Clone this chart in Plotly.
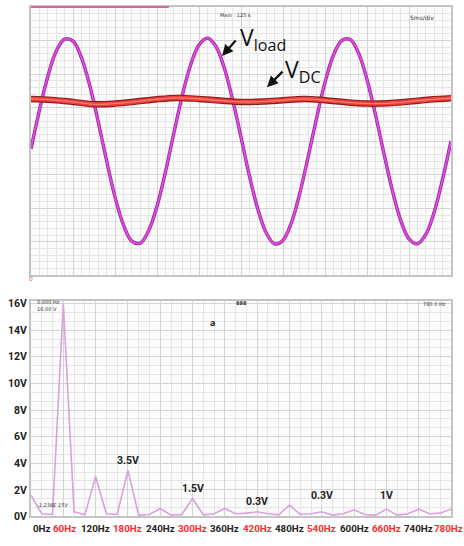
import plotly.graph_objects as go

W, H = 464, 546

# ---- oscilloscope trace (time in ms, amplitude in divisions) ----
time_ms = list(range(0, 51))
v_load = [-0.23, 0.92, 1.93, 2.68, 3.04, 2.98, 2.49, 1.65, 0.58, -0.58,
          -1.66, -2.49, -2.98, -3.04, -2.67, -1.94, -0.92, 0.23, 1.35, 2.27,
          2.87, 3.07, 2.83, 2.19, 1.24, 0.12, -1.03, -2.02, -2.73, -3.06,
          -2.95, -2.43, -1.55, -0.46, 0.69, 1.75, 2.56, 3.00, 3.03, 2.62,
          1.84, 0.80, -0.35, -1.45, -2.35, -2.91, -3.06, -2.78, -2.11, -1.13,
          0.00]

time_dc = [0, 2.5, 5, 7.5, 10, 12.5, 15, 17.5, 20, 22.5, 25, 27.5, 30,
           32.5, 35, 37.5, 40, 42.5, 45, 47.5, 50]
v_dc = [1.26, 1.23, 1.17, 1.10, 1.12, 1.18, 1.25, 1.29, 1.26, 1.21, 1.17,
        1.18, 1.22, 1.26, 1.22, 1.16, 1.12, 1.13, 1.18, 1.24, 1.28]

# ---- FFT spectrum ----
freq_hz = [0, 20, 40, 60, 80, 100, 120, 140, 160, 180, 200, 220, 240, 260,
           280, 300, 320, 340, 360, 380, 400, 420, 440, 460, 480, 500, 520,
           540, 560, 580, 600, 620, 640, 660, 680, 700, 720, 740, 760, 780]
amp_v = [1.6, 0.2, 0.15, 16.0, 0.35, 0.12, 3.0, 0.2, 0.15, 3.45, 0.1, 0.15,
         0.6, 0.1, 0.15, 1.35, 0.12, 0.2, 0.6, 0.2, 0.25, 0.35, 0.2, 0.12,
         0.85, 0.15, 0.2, 0.35, 0.1, 0.2, 0.5, 0.15, 0.1, 0.55, 0.1, 0.2,
         0.55, 0.2, 0.25, 0.55]

tick_hz = [0, 60, 120, 180, 240, 300, 360, 420, 480, 540, 600, 660, 720, 780]
tick_text = ["0Hz", "60Hz", "120Hz", "180Hz", "240Hz", "300Hz", "360Hz",
             "420Hz", "480Hz", "540Hz", "600Hz", "660Hz", "740Hz", "780Hz"]
tick_red = [False, True, False, True, False, True, False,
            True, False, True, False, True, False, True]

y_ticks = [0, 2, 4, 6, 8, 10, 12, 14, 16]
y_text = ["0V", "2V", "4V", "6V", "8V", "10V", "12V", "14V", "16V"]

# harmonic callouts: (frequency, label)
callouts = [(180, "3.5V"), (300, "1.5V"), (420, "0.3V"), (540, "0.3V"), (660, "1V")]
callout_px = [466, 494, 508, 502, 502]


def px(x):
    return x / W


def py(y):
    return 1 - y / H


fig = go.Figure()

# load voltage: darker rim under a magenta core
fig.add_trace(go.Scatter(x=time_ms, y=v_load, mode="lines",
                         line=dict(color="#9a239a", width=3.4, shape="spline"),
                         hoverinfo="skip", xaxis="x", yaxis="y"))
fig.add_trace(go.Scatter(x=time_ms, y=v_load, mode="lines",
                         line=dict(color="#e04ae0", width=1.9, shape="spline"),
                         xaxis="x", yaxis="y"))
# DC bus: dark red edge, red band, lighter centre
fig.add_trace(go.Scatter(x=time_dc, y=v_dc, mode="lines",
                         line=dict(color="#8c1c1c", width=6.5, shape="spline"),
                         hoverinfo="skip", xaxis="x", yaxis="y"))
fig.add_trace(go.Scatter(x=time_dc, y=v_dc, mode="lines",
                         line=dict(color="#f0403a", width=4.2, shape="spline"),
                         xaxis="x", yaxis="y"))
fig.add_trace(go.Scatter(x=time_dc, y=v_dc, mode="lines",
                         line=dict(color="#ff8a80", width=1.0, shape="spline"),
                         hoverinfo="skip", xaxis="x", yaxis="y"))

# spectrum
fig.add_trace(go.Scatter(x=freq_hz, y=amp_v, mode="lines",
                         line=dict(color="#d9a2dc", width=1.6),
                         xaxis="x2", yaxis="y2"))

grid_major = "#d4d4d4"
grid_minor = "#e6e6e6"
border = "#c4c4c4"
lbl_font = "Roboto"

fig.update_layout(
    width=W, height=H,
    margin=dict(l=0, r=0, t=0, b=0),
    paper_bgcolor="white",
    plot_bgcolor="#fcfcfc",
    showlegend=False,
    xaxis=dict(domain=[px(31), px(451)], range=[0, 50], dtick=5,
               showticklabels=False, ticks="", zeroline=False, showgrid=True,
               gridcolor=grid_major, gridwidth=1,
               minor=dict(dtick=1, showgrid=True, gridcolor=grid_minor, gridwidth=1),
               showline=True, mirror=True, linecolor=border, linewidth=2),
    yaxis=dict(domain=[py(277), py(3)], range=[-4, 4], dtick=1,
               showticklabels=False, ticks="", zeroline=False, showgrid=True,
               gridcolor=grid_major, gridwidth=1,
               minor=dict(dtick=0.2, showgrid=True, gridcolor=grid_minor, gridwidth=1),
               showline=True, mirror=True, linecolor=border, linewidth=2),
    xaxis2=dict(domain=[px(31), px(451)], range=[0, 780], anchor="y2",
                dtick=60, showticklabels=False, ticks="", zeroline=False,
                showgrid=True, gridcolor=grid_major, gridwidth=1,
                minor=dict(dtick=20, showgrid=True, gridcolor=grid_minor, gridwidth=1),
                showline=True, mirror=True, linecolor=border, linewidth=2),
    yaxis2=dict(domain=[py(523), py(303)], range=[0, 16.2], anchor="x2",
                tickvals=y_ticks, ticktext=y_text, ticks="",
                tickfont=dict(family=lbl_font, size=10.5, color="#222222",
                              weight="bold"),
                zeroline=False, showgrid=True, gridcolor=grid_major, gridwidth=1,
                minor=dict(dtick=2 / 3, showgrid=True, gridcolor=grid_minor, gridwidth=1),
                showline=True, mirror=True, linecolor=border, linewidth=2),
)

ann = []

# frequency labels under the spectrum
for f, txt, red in zip(tick_hz, tick_text, tick_red):
    ann.append(dict(x=f, y=py(535), xref="x2", yref="paper",
                    text=txt, showarrow=False,
                    xanchor="left" if f == 0 else "center",
                    xshift=-3 if f == tick_hz[-1] else (1 if f == 60 else 0),
                    yanchor="middle",
                    font=dict(family=lbl_font, size=9.8, weight="bold",
                              color="#ff2a2a" if red else "#222222")))

# harmonic amplitude callouts
for (f, txt), yy in zip(callouts, callout_px):
    ann.append(dict(x=f, y=py(yy), xref="x2", yref="paper", text=txt,
                    showarrow=False, xanchor="center", yanchor="middle",
                    font=dict(family=lbl_font, size=10.5, weight="bold",
                              color="#222222")))

small = dict(family="DejaVu Sans", size=5, color="#333333")
ann += [
    dict(x=px(212), y=py(325), xref="paper", yref="paper", text="<b>a</b>",
         showarrow=False, font=dict(family="Open Sans", size=9, color="#222222")),
    dict(x=px(35), y=py(308), xref="paper", yref="paper",
         text="0.000 Hz<br>16.00 V", showarrow=False, xanchor="left",
         align="left", font=small),
    dict(x=px(234), y=py(305), xref="paper", yref="paper", text="<b>888</b>",
         showarrow=False, xanchor="left", font=small),
    dict(x=px(448), y=py(306), xref="paper", yref="paper", text="780.0 Hz",
         showarrow=False, xanchor="right", font=small),
    dict(x=px(35), y=py(516), xref="paper", yref="paper", text="<i>-1.236E-15V</i>",
         showarrow=False, xanchor="left", font=small),
    dict(x=px(236), y=py(6), xref="paper", yref="paper", text="Main : 125 k",
         showarrow=False, xanchor="center", font=small),
    dict(x=px(436), y=py(8), xref="paper", yref="paper", text="5ms/div",
         showarrow=False, xanchor="right",
         font=dict(family="DejaVu Sans", size=6, color="#333333")),
    dict(x=px(27), y=py(139), xref="paper", yref="paper", text="1",
         showarrow=False, font=dict(family="DejaVu Sans", size=6, color="#cc44cc")),
    dict(x=px(27), y=py(280), xref="paper", yref="paper", text="0",
         showarrow=False, font=dict(family="DejaVu Sans", size=6, color="#e06060")),
    # signal labels
    dict(x=px(238), y=py(35), xref="paper", yref="paper",
         text="V<sub>load</sub>", showarrow=False, xanchor="left", yanchor="middle",
         font=dict(family="Open Sans", size=23, color="#111111")),
    dict(x=px(283), y=py(68), xref="paper", yref="paper",
         text="V<sub>DC</sub>", showarrow=False, xanchor="left", yanchor="middle",
         font=dict(family="Open Sans", size=23, color="#111111")),
    # pointer arrows
    dict(x=22.74, y=2.54, xref="x", yref="y", ax=15, ay=-17, text="",
         showarrow=True, arrowhead=2, arrowsize=1, arrowwidth=2.2,
         arrowcolor="#111111"),
    dict(x=28.1, y=1.61, xref="x", yref="y", ax=17, ay=-17, text="",
         showarrow=True, arrowhead=2, arrowsize=1, arrowwidth=2.2,
         arrowcolor="#111111"),
]
fig.update_layout(annotations=ann)

# record-position bar along the top edge of the scope screen
fig.add_shape(type="line", xref="x", yref="paper", x0=0, x1=16.4,
              y0=py(3), y1=py(3), line=dict(color="#e0609a", width=2))

fig.write_html("out.html")
